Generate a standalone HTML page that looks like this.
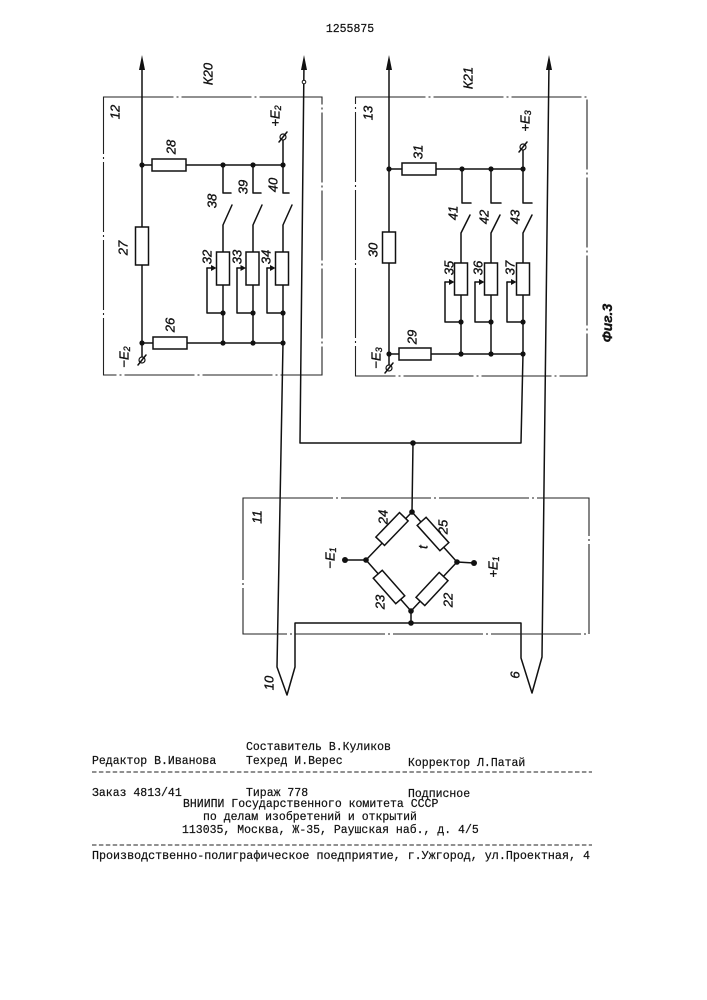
<!DOCTYPE html>
<html>
<head>
<meta charset="utf-8">
<style>
html,body{margin:0;padding:0;background:#fff;}
svg{display:block;}
.l{fill:none;stroke:#111;stroke-width:1.5;stroke-linecap:round;stroke-linejoin:round;}
.b{fill:none;stroke:#222;stroke-width:1.1;}
.r{fill:#fff;stroke:#111;stroke-width:1.5;}
.d{fill:#111;}
.lb{font-family:"Liberation Sans",sans-serif;font-style:italic;font-size:13px;fill:#111;stroke:#111;stroke-width:0.35;}
.tx{font-family:"Liberation Mono",monospace;font-size:11.5px;fill:#111;stroke:#111;stroke-width:0.2;}
</style>
</head>
<body>
<svg width="707" height="1000" viewBox="0 0 707 1000" xmlns="http://www.w3.org/2000/svg">
<rect width="707" height="1000" fill="#fff"/>

<!-- header -->
<text class="tx" x="350" y="32" text-anchor="middle">1255875</text>

<!-- ============ BOX 12 ============ -->
<rect class="b" x="103.5" y="97" width="218.5" height="278" stroke-dasharray="70,3,2,3"/>
<line class="l" x1="142" y1="62" x2="142" y2="357"/>
<polygon class="d" points="142,55 139,70 145,70"/>
<rect class="r" x="135.5" y="227" width="13" height="38"/>
<line class="l" x1="142" y1="165" x2="283" y2="165"/>
<rect class="r" x="152" y="159" width="34" height="12"/>
<line class="l" x1="142" y1="343" x2="283" y2="343"/>
<rect class="r" x="153" y="337" width="34" height="12"/>
<line class="l" x1="283" y1="140" x2="283" y2="165"/>
<circle cx="283" cy="137" r="3" fill="#fff" stroke="#111" stroke-width="1.2"/>
<line class="l" x1="279" y1="142" x2="287" y2="132" stroke-width="1"/>
<circle cx="142" cy="360" r="3" fill="#fff" stroke="#111" stroke-width="1.2"/>
<line class="l" x1="138" y1="365" x2="146" y2="355" stroke-width="1"/>
<g class="d">
<circle cx="142" cy="165" r="2.6"/><circle cx="223" cy="165" r="2.6"/><circle cx="253" cy="165" r="2.6"/><circle cx="283" cy="165" r="2.6"/>
<circle cx="142" cy="343" r="2.6"/><circle cx="223" cy="343" r="2.6"/><circle cx="253" cy="343" r="2.6"/><circle cx="283" cy="343" r="2.6"/>
<circle cx="223" cy="313" r="2.6"/><circle cx="253" cy="313" r="2.6"/><circle cx="283" cy="313" r="2.6"/>
</g>
<g>
<path class="l" d="M223,165 V193 H231 M223,225 L232,205 M223,225 V252 M223,285 V343 M207,268 V313 H223"/>
<rect class="r" x="216.5" y="252" width="13" height="33"/>
<line class="l" x1="207" y1="268" x2="213" y2="268"/>
<polygon class="d" points="216.5,268 211,265 211,271"/>

<path class="l" d="M253,165 V193 H261 M253,225 L262,205 M253,225 V252 M253,285 V343 M237,268 V313 H253"/>
<rect class="r" x="246" y="252" width="13" height="33"/>
<line class="l" x1="237" y1="268" x2="243" y2="268"/>
<polygon class="d" points="246,268 240.5,265 240.5,271"/>

<path class="l" d="M283,165 V193 H289 M283,225 L292,205 M283,225 V252 M283,285 V343 M267,268 V313 H283"/>
<rect class="r" x="275.5" y="252" width="13" height="33"/>
<line class="l" x1="267" y1="268" x2="273" y2="268"/>
<polygon class="d" points="275.5,268 270,265 270,271"/>
</g>

<!-- ============ BOX 13 ============ -->
<rect class="b" x="355.5" y="97" width="231.5" height="279" stroke-dasharray="70,3,2,3"/>
<line class="l" x1="389" y1="62" x2="389" y2="365"/>
<polygon class="d" points="389,55 386,70 392,70"/>
<rect class="r" x="382.5" y="232" width="13" height="31"/>
<line class="l" x1="389" y1="169" x2="523" y2="169"/>
<rect class="r" x="402" y="163" width="34" height="12"/>
<line class="l" x1="389" y1="354" x2="523" y2="354"/>
<rect class="r" x="399" y="348" width="32" height="12"/>
<line class="l" x1="523" y1="150" x2="523" y2="169"/>
<circle cx="523" cy="147" r="3" fill="#fff" stroke="#111" stroke-width="1.2"/>
<line class="l" x1="519" y1="152" x2="527" y2="142" stroke-width="1"/>
<circle cx="389" cy="368" r="3" fill="#fff" stroke="#111" stroke-width="1.2"/>
<line class="l" x1="385" y1="373" x2="393" y2="363" stroke-width="1"/>
<g class="d">
<circle cx="389" cy="169" r="2.6"/><circle cx="462" cy="169" r="2.6"/><circle cx="491" cy="169" r="2.6"/><circle cx="523" cy="169" r="2.6"/>
<circle cx="389" cy="354" r="2.6"/><circle cx="461" cy="354" r="2.6"/><circle cx="491" cy="354" r="2.6"/><circle cx="523" cy="354" r="2.6"/>
<circle cx="461" cy="322" r="2.6"/><circle cx="491" cy="322" r="2.6"/><circle cx="523" cy="322" r="2.6"/>
</g>
<g>
<path class="l" d="M462,169 V203 H471 M461,233 L470,215 M461,233 V263 M461,295 V354 M445,282 V322 H461"/>
<rect class="r" x="454.5" y="263" width="13" height="32"/>
<line class="l" x1="445" y1="282" x2="451" y2="282"/>
<polygon class="d" points="454.5,282 449,279 449,285"/>

<path class="l" d="M491,169 V203 H501 M491,233 L500,215 M491,233 V263 M491,295 V354 M475,282 V322 H491"/>
<rect class="r" x="484.5" y="263" width="13" height="32"/>
<line class="l" x1="475" y1="282" x2="481" y2="282"/>
<polygon class="d" points="484.5,282 479,279 479,285"/>

<path class="l" d="M523,169 V203 H532 M523,233 L532,215 M523,233 V263 M523,295 V354 M507,282 V322 H523"/>
<rect class="r" x="516.5" y="263" width="13" height="32"/>
<line class="l" x1="507" y1="282" x2="513" y2="282"/>
<polygon class="d" points="516.5,282 511,279 511,285"/>
</g>

<!-- ============ interconnects ============ -->
<path class="l" d="M523,354 L521,443 H300 L304,62"/>
<polygon class="d" points="304,55 301,70 307,70"/>
<circle cx="304" cy="82" r="1.8" fill="#fff" stroke="#111" stroke-width="1"/>
<circle class="d" cx="413" cy="443" r="2.8"/>
<line class="l" x1="413" y1="443" x2="412" y2="512"/>

<path class="l" d="M283,343 L277,667 L287,695 L295,667 V623 H521 V658 L532,693 L542,657 L549,62"/>
<polygon class="d" points="549,55 546,70 552,70"/>

<!-- ============ BOX 11 ============ -->
<rect class="b" x="243" y="498" width="346" height="136" stroke-dasharray="90,3,2,3"/>

<path class="l" d="M412,512 L366,560 L411,611 L457,562 Z"/>
<line class="l" x1="345" y1="560" x2="366" y2="560"/>
<line class="l" x1="457" y1="562" x2="474" y2="563"/>
<line class="l" x1="411" y1="611" x2="411" y2="623"/>
<g class="r">
<rect x="-17" y="-6" width="34" height="12" transform="translate(392,529) rotate(-46)"/>
<rect x="-17" y="-6" width="34" height="12" transform="translate(433,534) rotate(48)"/>
<rect x="-17" y="-6" width="34" height="12" transform="translate(389,587) rotate(48.6)"/>
<rect x="-17" y="-6" width="34" height="12" transform="translate(432,589) rotate(-47)"/>
</g>
<g class="d">
<circle cx="412" cy="512" r="2.8"/><circle cx="366" cy="560" r="2.8"/><circle cx="457" cy="562" r="2.8"/><circle cx="411" cy="611" r="2.8"/>
<circle cx="411" cy="623" r="2.8"/><circle cx="345" cy="560" r="3"/><circle cx="474" cy="563" r="3"/>
</g>

<!-- ============ labels (rotated) ============ -->
<g class="lb" text-anchor="middle" dominant-baseline="central">
<text transform="translate(115,112) rotate(-90)">12</text>
<text transform="translate(208,74) rotate(-90)">К20</text>
<text transform="translate(171,147) rotate(-90)">28</text>
<text transform="translate(123,248) rotate(-90)">27</text>
<text transform="translate(170,325) rotate(-90)">26</text>
<text transform="translate(124,357) rotate(-90)">−E<tspan font-size="9" dy="3">2</tspan></text>
<text transform="translate(275,116) rotate(-90)">+E<tspan font-size="9" dy="3">2</tspan></text>
<text transform="translate(212,201) rotate(-90)">38</text>
<text transform="translate(243,187) rotate(-90)">39</text>
<text transform="translate(273,185) rotate(-90)">40</text>
<text transform="translate(207,257) rotate(-90)">32</text>
<text transform="translate(237,257) rotate(-90)">33</text>
<text transform="translate(266,257) rotate(-90)">34</text>

<text transform="translate(368,113) rotate(-90)">13</text>
<text transform="translate(468,78) rotate(-90)">К21</text>
<text transform="translate(418,152) rotate(-90)">31</text>
<text transform="translate(373,250) rotate(-90)">30</text>
<text transform="translate(412,337) rotate(-90)">29</text>
<text transform="translate(376,358) rotate(-90)">−E<tspan font-size="9" dy="3">3</tspan></text>
<text transform="translate(525,121) rotate(-90)">+E<tspan font-size="9" dy="3">3</tspan></text>
<text transform="translate(453,213) rotate(-90)">41</text>
<text transform="translate(484,217) rotate(-90)">42</text>
<text transform="translate(515,217) rotate(-90)">43</text>
<text transform="translate(449,268) rotate(-90)">35</text>
<text transform="translate(478,268) rotate(-90)">36</text>
<text transform="translate(510,268) rotate(-90)">37</text>
<text transform="translate(607,323) rotate(-90)" font-size="14" font-weight="bold">Фиг.3</text>

<text transform="translate(257,517) rotate(-90)">11</text>
<text transform="translate(383,517) rotate(-90)">24</text>
<text transform="translate(443,527) rotate(-90)">25</text>
<text transform="translate(423,547) rotate(-90)">t</text>
<text transform="translate(380,602) rotate(-90)">23</text>
<text transform="translate(448,600) rotate(-90)">22</text>
<text transform="translate(330,558) rotate(-90)">−E<tspan font-size="9" dy="3">1</tspan></text>
<text transform="translate(493,567) rotate(-90)">+E<tspan font-size="9" dy="3">1</tspan></text>
<text transform="translate(269,683) rotate(-90)">10</text>
<text transform="translate(515,675) rotate(-90)">6</text>
</g>

<!-- ============ bottom text block ============ -->
<g class="tx">
<text x="246" y="750">Составитель В.Куликов</text>
<text x="92" y="764">Редактор В.Иванова</text>
<text x="246" y="764">Техред И.Верес</text>
<text x="408" y="766">Корректор Л.Патай</text>
<text x="92" y="796">Заказ 4813/41</text>
<text x="246" y="796">Тираж 778</text>
<text x="408" y="797">Подписное</text>
<text x="183" y="807">ВНИИПИ Государственного комитета СССР</text>
<text x="203" y="820">по делам изобретений и открытий</text>
<text x="182" y="833">113035, Москва, Ж-35, Раушская наб., д. 4/5</text>
<text x="92" y="859" textLength="498" lengthAdjust="spacingAndGlyphs">Производственно-полиграфическое поедприятие, г.Ужгород, ул.Проектная, 4</text>
</g>
<line x1="92" y1="772" x2="592" y2="772" stroke="#222" stroke-width="1" stroke-dasharray="4.5,2.4"/>
<line x1="92" y1="845" x2="592" y2="845" stroke="#222" stroke-width="1" stroke-dasharray="4.5,2.4"/>
</svg>
</body>
</html>
